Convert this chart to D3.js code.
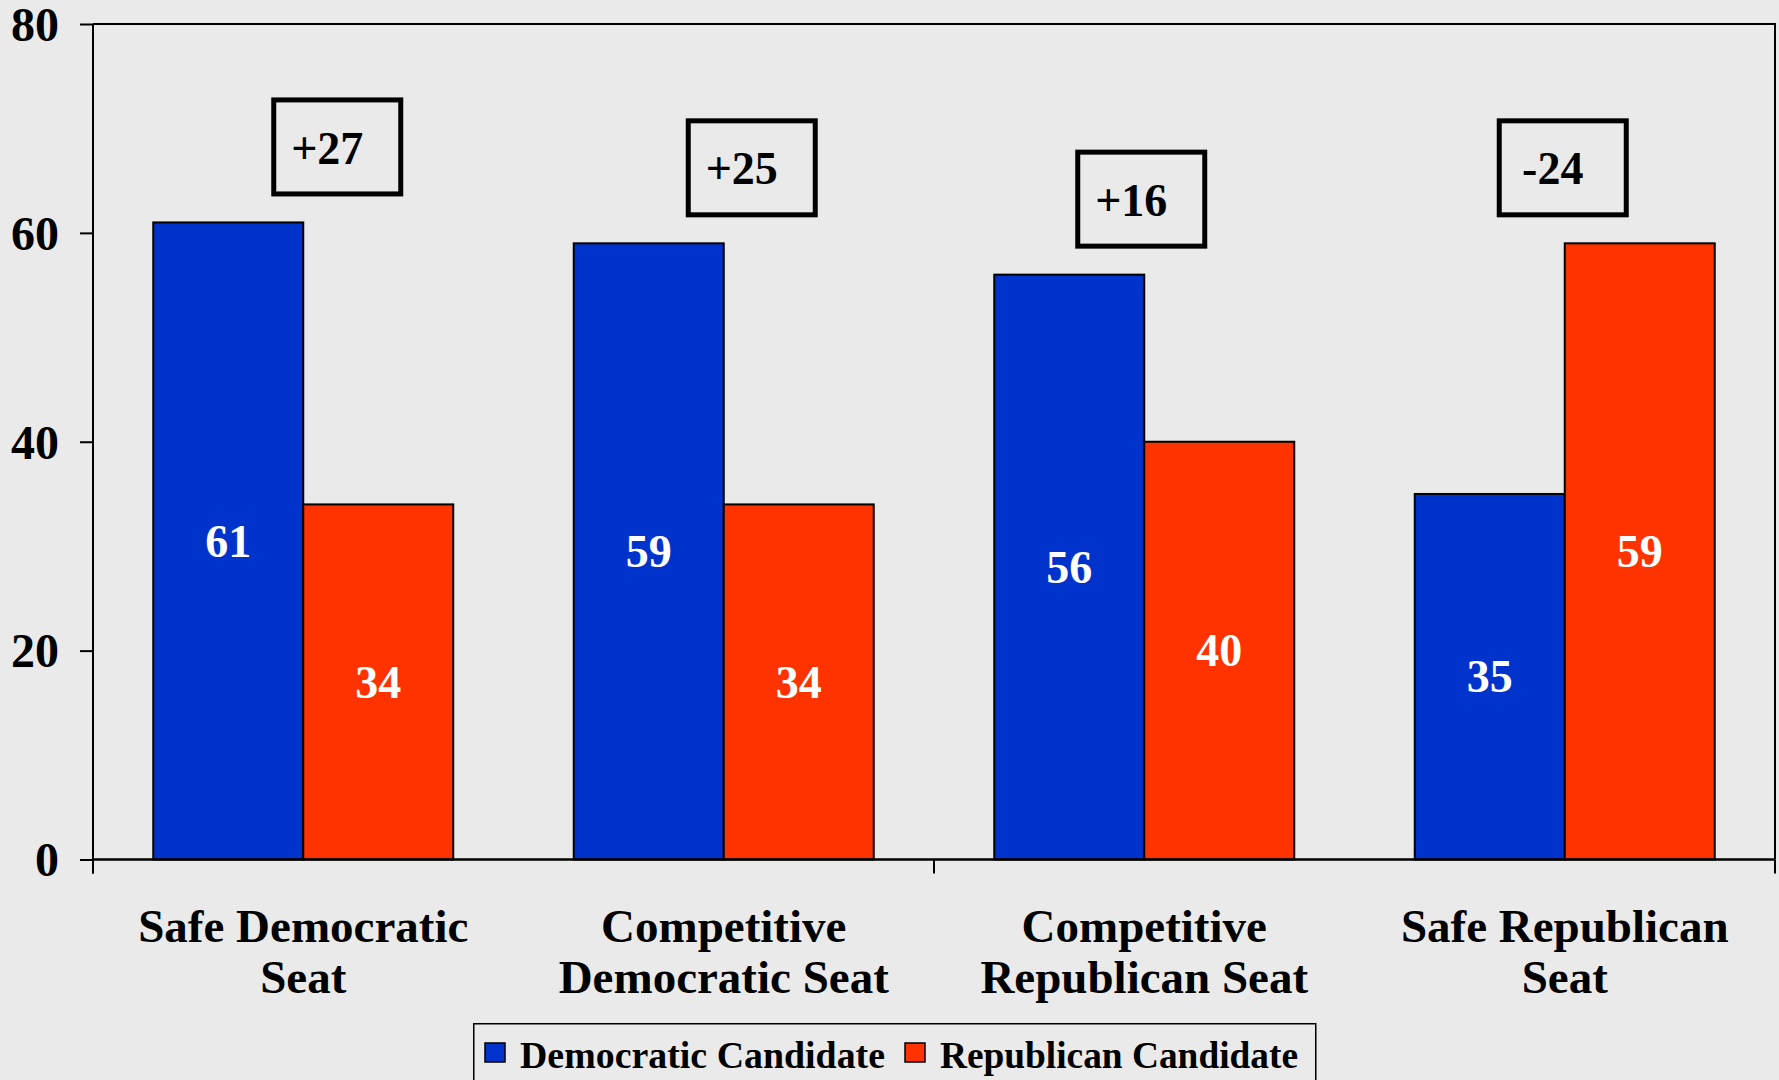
<!DOCTYPE html>
<html>
<head>
<meta charset="utf-8">
<script src="https://cdnjs.cloudflare.com/ajax/libs/d3/7.8.5/d3.min.js"></script>
<style>
  body { margin: 0; background: #eaeaea; }
  svg { display: block; font-family: "Liberation Serif", "Times New Roman", serif; font-weight: bold; }
</style>
</head>
<body>
<svg id="chart" width="1779" height="1080"></svg>
<script>
// data
var categories = ["Safe Democratic Seat", "Competitive Democratic Seat", "Competitive Republican Seat", "Safe Republican Seat"];
var catLines = [["Safe Democratic", "Seat"], ["Competitive", "Democratic Seat"], ["Competitive", "Republican Seat"], ["Safe Republican", "Seat"]];
var series = ["Democratic Candidate", "Republican Candidate"];
var demValues = [61, 59, 56, 35];
var repValues = [34, 34, 40, 59];
var gapLabels = ["+27", "+25", "+16", "-24"];
var yTicks = [0, 20, 40, 60, 80];

var colors = { "Democratic Candidate": "#0033cc", "Republican Candidate": "#ff3300" };
// small sideways nudges of the margin boxes, as in the original
var noteNudge = [34, 28, -3, -2];

var margin = { left: 93, right: 4, top: 24 },
    W = 1779, plotBottom = 859.5;

var svg = d3.select("#chart");

var x0 = d3.scaleBand()
    .domain(categories)
    .range([margin.left, W - margin.right])
    .paddingInner(0.2866)
    .paddingOuter(0.1433);

var x1 = d3.scaleBand()
    .domain(series)
    .range([0, x0.bandwidth()]);

var y = d3.scaleLinear()
    .domain([0, 80])
    .range([plotBottom, margin.top]);

var rows = categories.map(function(c, i) {
  return { cat: c, i: i, vals: [
    { s: series[0], v: demValues[i] },
    { s: series[1], v: repValues[i] }
  ]};
});

// plot frame (top + right)
svg.append("path")
    .attr("d", "M" + margin.left + "," + y(80) + "H" + (W - margin.right) + "V" + y(0))
    .attr("fill", "none")
    .attr("stroke", "#000")
    .attr("stroke-width", 2);

// bars
var g = svg.selectAll(".grp")
  .data(rows)
  .enter().append("g")
    .attr("class", "grp")
    .attr("transform", function(d) { return "translate(" + x0(d.cat) + ",0)"; });

g.selectAll("rect")
  .data(function(d) { return d.vals; })
  .enter().append("rect")
    .attr("x", function(d) { return x1(d.s); })
    .attr("y", function(d) { return y(d.v); })
    .attr("width", x1.bandwidth())
    .attr("height", function(d) { return y(0) - y(d.v); })
    .attr("fill", function(d) { return colors[d.s]; })
    .attr("stroke", "#000")
    .attr("stroke-width", 2);

g.selectAll("text.val")
  .data(function(d) { return d.vals; })
  .enter().append("text")
    .attr("class", "val")
    .attr("x", function(d) { return x1(d.s) + x1.bandwidth() / 2; })
    .attr("y", function(d) { return y(d.v / 2); })
    .attr("dy", "0.34em")
    .attr("text-anchor", "middle")
    .attr("fill", "#fff")
    .style("font-size", "46px")
    .text(function(d) { return d.v; });

// margin boxes
var boxW = 132, boxH = 99;
var note = svg.selectAll(".note")
  .data(rows)
  .enter().append("g")
    .attr("class", "note")
    .attr("transform", function(d) {
      var cx = x0(d.cat) + x0.bandwidth() / 2 + noteNudge[d.i];
      var top = y(d3.max(d.vals, function(v) { return v.v; })) - 26 - boxH;
      return "translate(" + (cx - boxW / 2) + "," + top + ")";
    });

note.append("rect")
    .attr("x", 2.5).attr("y", 2.5)
    .attr("width", boxW - 5).attr("height", boxH - 5)
    .attr("fill", "none")
    .attr("stroke", "#000")
    .attr("stroke-width", 5);

note.append("text")
    .attr("x", boxW / 2 - 10)
    .attr("y", boxH / 2 + 1)
    .attr("dy", "0.34em")
    .attr("text-anchor", "middle")
    .style("font-size", "46px")
    .text(function(d) { return gapLabels[d.i]; });

// y axis
var yAxis = svg.append("g")
    .attr("transform", "translate(" + margin.left + ",0)")
    .call(d3.axisLeft(y).tickValues(yTicks).tickSize(13).tickPadding(21));
yAxis.selectAll("line, path").attr("stroke", "#000").attr("stroke-width", 2);
yAxis.select(".domain").attr("d", "M0," + y(80) + "V" + (y(0) + 14));
yAxis.selectAll("text")
    .attr("fill", "#000")
    .attr("dy", "0.34em")
    .style("font-family", "Liberation Serif, serif")
    .style("font-weight", "bold")
    .style("font-size", "48px");

// x axis: baseline + ticks at every other band edge
var edges = [0, 2, 4].map(function(k) {
  return margin.left + (W - margin.right - margin.left) * k / categories.length;
});
svg.append("line")
    .attr("x1", margin.left).attr("x2", W - margin.right)
    .attr("y1", y(0)).attr("y2", y(0))
    .attr("stroke", "#000").attr("stroke-width", 2.5);
svg.selectAll(".xtick")
  .data(edges)
  .enter().append("line")
    .attr("class", "xtick")
    .attr("x1", function(d) { return d; }).attr("x2", function(d) { return d; })
    .attr("y1", y(0)).attr("y2", y(0) + 14)
    .attr("stroke", "#000").attr("stroke-width", 2);

// category labels
var cl = svg.selectAll(".cat")
  .data(rows)
  .enter().append("text")
    .attr("class", "cat")
    .attr("text-anchor", "middle")
    .style("font-size", "47px");
cl.selectAll("tspan")
  .data(function(d) { return catLines[d.i].map(function(t) { return { t: t, c: d.cat }; }); })
  .enter().append("tspan")
    .attr("x", function(d) { return x0(d.c) + x0.bandwidth() / 2; })
    .attr("y", function(d, i) { return 942 + i * 51; })
    .text(function(d) { return d.t; });

// legend
var lg = svg.append("g").attr("transform", "translate(473,1023)");
lg.append("rect")
    .attr("x", 0.75).attr("y", 0.75)
    .attr("width", 842).attr("height", 80)
    .attr("fill", "none").attr("stroke", "#000").attr("stroke-width", 1.5);
var li = lg.selectAll(".li")
  .data(series)
  .enter().append("g")
    .attr("class", "li")
    .attr("transform", function(d, i) { return "translate(" + (12 + i * 420) + ",0)"; });
li.append("rect")
    .attr("x", 0).attr("y", 20)
    .attr("width", 20).attr("height", 19)
    .attr("fill", function(d) { return colors[d]; })
    .attr("stroke", "#000").attr("stroke-width", 1.5);
li.append("text")
    .attr("x", 35).attr("y", 45)
    .attr("textLength", function(d, i) { return i === 0 ? 365 : 358; })
    .attr("lengthAdjust", "spacingAndGlyphs")
    .style("font-size", "37px")
    .text(function(d) { return d; });
</script>
</body>
</html>
